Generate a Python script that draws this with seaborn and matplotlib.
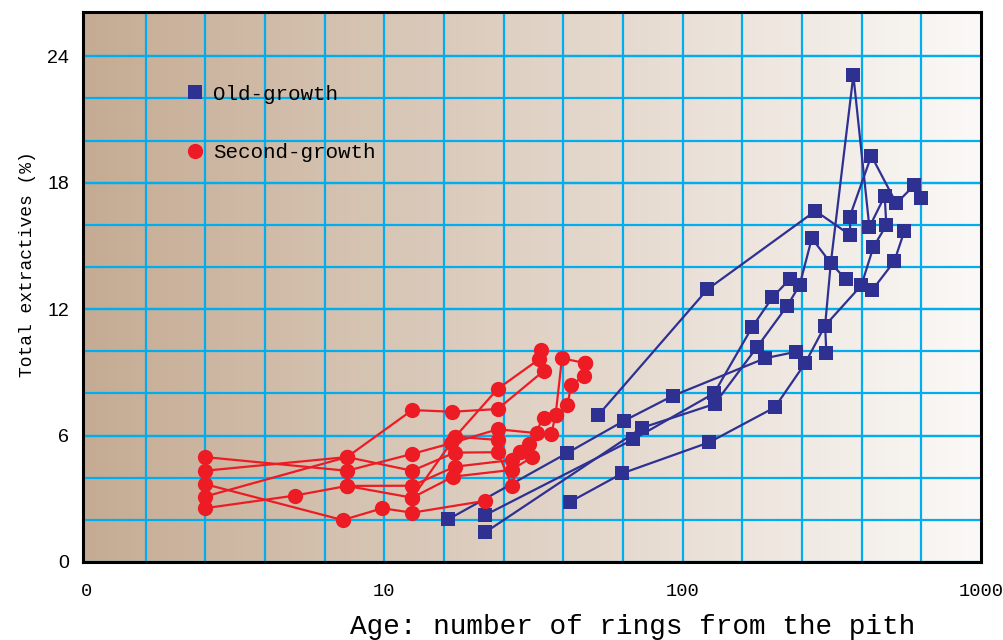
import numpy as np
import pandas as pd
import seaborn as sns
import matplotlib.pyplot as plt
from matplotlib.lines import Line2D

# Old-growth trees: tree id, age (rings from pith), total extractives (%)
old_tree = [1]*6 + [2]*6 + [3]*9 + [4]*7 + [5]*9 + [6]*12
old_age = [16.4, 41.0, 63.4, 92.5, 189, 240.6,
           21.8, 68.3, 127.5, 171.4, 200, 228.4,
           21.8, 73.1, 128, 177.4, 224.5, 246.6, 271, 313.7, 352.2,
           42.0, 62.8, 122.8, 203.7, 257.3, 300.2, 397.2,
           52.2, 121.1, 278.6, 364.9, 363.2, 429, 520.2, 597.6, 630.6,
           303.2, 300.2, 313.7, 373.4, 422.5, 475.6, 481.6, 435.6, 397.2, 432.3, 512.2, 553.4]
old_ext = [2.03, 5.17, 6.69, 7.88, 9.67, 9.98,
           2.23, 5.82, 8.01, 11.17, 12.56, 13.42,
           1.41, 6.37, 7.50, 10.19, 12.17, 13.14, 15.36, 14.18, 13.42,
           2.86, 4.21, 5.68, 7.34, 9.43, 11.22, 13.13,
           6.98, 12.94, 16.66, 15.51, 16.39, 19.28, 17.02, 17.88, 17.26,
           9.90, 11.22, 14.18, 23.10, 15.89, 17.37, 15.98, 14.94, 13.13, 12.91, 14.27, 15.70]

# Second-growth trees
sec_tree = [1]*5 + [2]*10 + [3]*6 + [4]*7 + [5]*14 + [6]*6 + [7]*4 + [8]*2
sec_age = [2.5, 7.25, 9.85, 12.4, 21.7,
           2.5, 7.5, 12.4, 16.7, 24, 32.6, 36.3, 37.5, 39.4, 47.0,
           2.5, 7.5, 12.4, 16.9, 24, 34.3,
           2.5, 7.5, 12.4, 17.2, 24, 26.8, 28.4,
           2.5, 5.0, 7.5, 12.4, 17.2, 26.7, 28.4, 30.6, 34.2, 37.5, 41.1, 42.3, 46.8, 47.0,
           7.5, 12.4, 17.3, 24, 33.0, 33.6,
           12.4, 17.0, 26.7, 31.2,
           17.3, 24]
sec_ext = [3.70, 1.99, 2.55, 2.34, 2.90,
           4.98, 4.33, 5.13, 5.63, 6.30, 6.11, 6.09, 6.98, 9.67, 9.44,
           4.33, 4.98, 7.21, 7.13, 7.26, 9.08,
           3.10, 4.98, 4.33, 5.19, 5.21, 3.61, 5.21,
           2.55, 3.15, 3.61, 3.62, 4.52, 4.84, 5.21, 5.59, 6.85, 6.98, 7.45, 8.40, 8.83, 9.44,
           3.61, 3.05, 5.95, 8.22, 9.62, 10.06,
           3.05, 4.05, 4.37, 4.97,
           5.95, 5.79]

x_ticks = [1, 10, 100, 1000]
x_tick_labels = ['0', '10', '100', '1000']
y_ticks = [0, 6, 12, 18, 24]

BLUE = '#2e3192'
RED = '#ed1c24'
GRID = '#00aeef'
MONO = 'Liberation Mono'

old_df = pd.DataFrame({'tree': old_tree, 'age': old_age, 'ext': old_ext})
sec_df = pd.DataFrame({'tree': sec_tree, 'age': sec_age, 'ext': sec_ext})

fig = plt.figure(figsize=(10.04, 6.4), dpi=100)
ax = fig.add_axes([83/1004, 1 - 562/640, 898/1004, 550/640])
ax.set_xscale('log')

# tan -> off-white background gradient
c0 = np.array([197, 171, 147]) / 255
c1 = np.array([251, 249, 247]) / 255
t = np.linspace(0, 1, 256)[None, :, None]
grad = c0 + (c1 - c0) * t
ax.imshow(grad, extent=[0, 1, 0, 1], transform=ax.transAxes, aspect='auto', zorder=0)

sns.lineplot(data=old_df, x='age', y='ext', units='tree', estimator=None, sort=False,
             color=BLUE, marker='s', markersize=9.5, markeredgewidth=0, linewidth=1.6,
             ax=ax, legend=False, zorder=3)
sns.lineplot(data=sec_df, x='age', y='ext', units='tree', estimator=None, sort=False,
             color=RED, marker='o', markersize=11, markeredgewidth=0, linewidth=1.6,
             ax=ax, legend=False, zorder=4)

ax.set_xlim(0.977, 1000)
ax.set_ylim(0, 26.1)

ax.set_xticks(x_ticks)
ax.set_xticklabels(x_tick_labels, fontfamily=MONO, fontsize=13.5)
ax.set_xticks([10 ** (k / 5) for k in range(1, 15)], minor=True)
ax.set_yticks(y_ticks)
ax.set_yticklabels([str(v) for v in y_ticks], fontfamily='Liberation Sans', fontsize=14)
ax.set_yticks(range(2, 26, 2), minor=True)
ax.xaxis.remove_overlapping_locs = False
ax.yaxis.remove_overlapping_locs = False
ax.tick_params(axis='both', which='both', length=0)
ax.tick_params(axis='x', which='major', pad=15)
ax.tick_params(axis='y', which='major', pad=10)
ax.xaxis.set_minor_formatter(plt.NullFormatter())
ax.yaxis.set_minor_formatter(plt.NullFormatter())

ax.set_axisbelow(True)
ax.grid(which='major', visible=False)
ax.grid(which='minor', color=GRID, linewidth=1.6)
ax.yaxis.grid(True, which='major', color=GRID, linewidth=1.6)
for s in ax.spines.values():
    s.set_color('black')
    s.set_linewidth(2.2)
    s.set_zorder(5)

ax.set_xlabel('Age: number of rings from the pith', fontfamily=MONO, fontsize=20)
ax.xaxis.set_label_coords(0.6125, -0.095)
ax.set_ylabel('Total extractives (%)', fontfamily=MONO, fontsize=13)
ax.yaxis.set_label_coords(-0.052, 0.542)

handles = [Line2D([], [], color=BLUE, marker='s', markersize=9.5, markeredgewidth=0, linestyle='none'),
           Line2D([], [], color=RED, marker='o', markersize=11, markeredgewidth=0, linestyle='none')]
ax.legend(handles, ['Old-growth', 'Second-growth'], loc='upper left',
          bbox_to_anchor=(0.1155, 0.868), frameon=False,
          prop={'family': MONO, 'size': 15}, handlelength=0.8, handletextpad=0.45,
          labelspacing=1.9, borderpad=0, borderaxespad=0)

fig.savefig('out.png', dpi=100)
